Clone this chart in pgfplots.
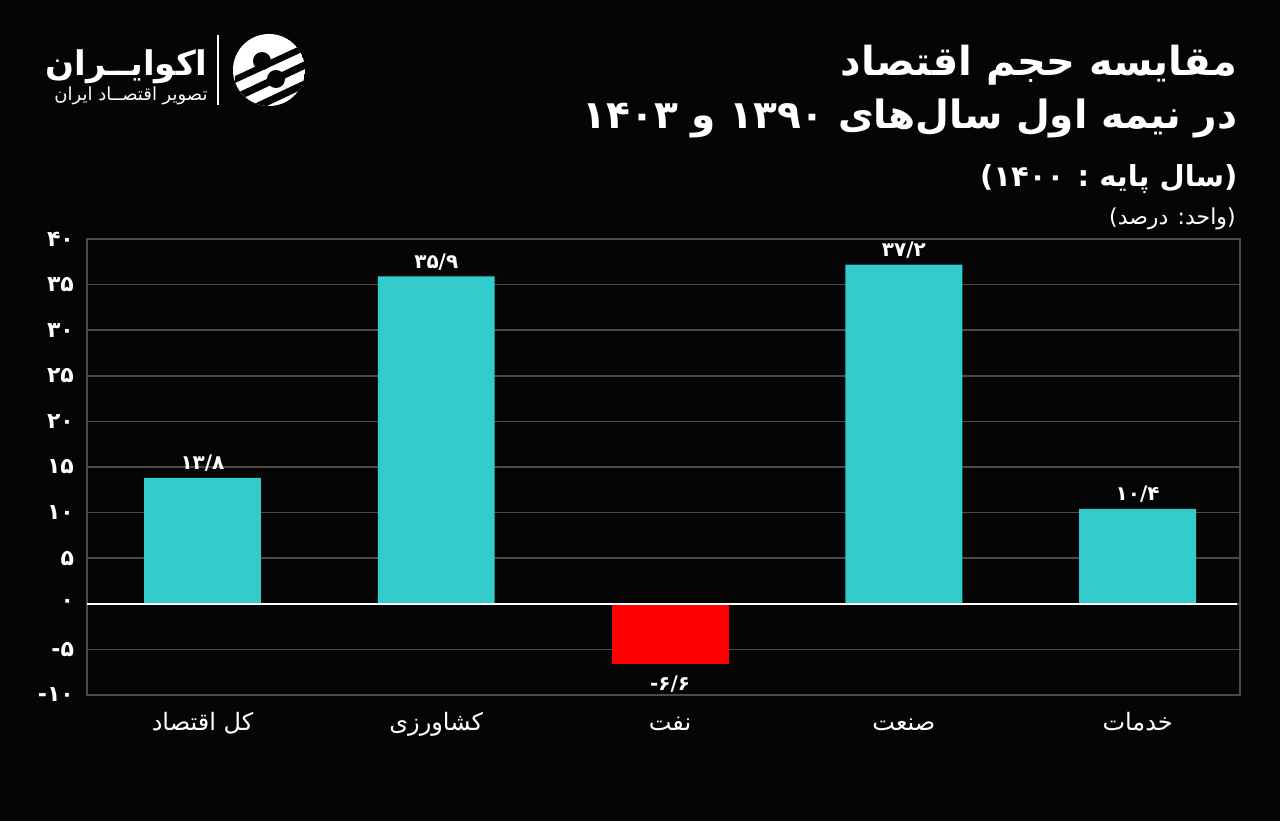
\documentclass[border=0pt]{standalone}
\usepackage{pgfplots}
\pgfplotsset{compat=1.18}
\usepackage{fontspec}
\setmainfont{DejaVu Sans}
\newfontfamily\fa[Script=Arabic]{DejaVu Sans}
\TeXXeTstate=1
\definecolor{bg}{HTML}{050505}
\definecolor{barc}{HTML}{33CCCC}
\definecolor{gridc}{HTML}{4A4A4A}
\begin{document}
\begin{tikzpicture}[x=0.5pt,y=0.5pt]
\begin{scope}[shift={(-87,-126)}]
\fill[bg] (0,0) rectangle (1280,821);
\useasboundingbox (0,0) rectangle (1280,821);
% logo
\node[anchor=base east, white, font=\fa\bfseries\fontsize{17}{20}\selectfont, inner sep=0] at (208,746) {\beginR اکوایــران\endR};
\node[anchor=base east, white, font=\fa\fontsize{9}{11}\selectfont, inner sep=0] at (208,721) {\beginR تصویر اقتصــاد ایران\endR};
\draw[white, line width=0.6pt] (218,786) -- (218,716);
\begin{scope}
  \clip (269,751) circle[radius=36];
  \fill[white] (269,751) circle[radius=36];
  \fill[bg] (235,745) -- (300,775) -- (300,768) -- (235,738) -- cycle;
  \fill[bg] (235,727) -- (305,760) -- (305,752) -- (235,719) -- cycle;
  \fill[bg] (235,708) -- (305,741) -- (305,733) -- (235,700) -- cycle;
  \fill[bg] (262,760) circle[radius=9];
  \fill[bg] (276,742) circle[radius=9];
\end{scope}
% titles
\node[anchor=base east, white, font=\fa\bfseries\fontsize{20}{24}\selectfont, inner sep=0] at (1238,746) {\beginR مقایسه حجم اقتصاد\endR};
\node[anchor=base east, white, font=\fa\bfseries\fontsize{19.5}{24}\selectfont, inner sep=0] at (1238,693) {\beginR در نیمه اول سال‌های ۱۳۹۰ و ۱۴۰۳\endR};
\node[anchor=base east, white, font=\fa\bfseries\fontsize{14.5}{18}\selectfont, inner sep=0] at (1238,635) {)\beginR سال پایه : ۱۴۰۰\endR(};
\node[anchor=base east, white, font=\fa\fontsize{11}{13}\selectfont, inner sep=0] at (1236,597) {)\beginR واحد\kern0pt: درصد\endR(};
\end{scope}
\begin{axis}[
  scale only axis,
  width=576.5pt, height=228pt,
  xmin=-0.494, xmax=4.438, ymin=-10, ymax=40,
  axis line style={draw=gridc, line width=0.8pt},
  ytick={-10,-5,...,40},
  yticklabels={-\kern0pt۱۰,-\kern0pt۵,۰,۵,۱۰,۱۵,۲۰,۲۵,۳۰,۳۵,۴۰},
  xtick={0,1,2,3,4},
  xticklabels={\beginR کل اقتصاد\endR,\beginR کشاورزی\endR,\beginR نفت\endR,\beginR صنعت\endR,\beginR خدمات\endR},
  major tick length=0pt,
  ymajorgrids, grid style={gridc, line width=0.8pt},
  tick label style={white},
  yticklabel style={font=\fa\bfseries\fontsize{11}{13}\selectfont, xshift=-3pt},
  xticklabel style={font=\fa\fontsize{12}{14}\selectfont, yshift=-1pt, text height=13pt, text depth=4pt},
  clip=false,
  point meta=explicit symbolic,
]
\addplot[ybar, bar width=0.5, bar shift=0pt, fill=barc, draw=none,
  nodes near coords, every node near coord/.append style={white, anchor=south, font=\fa\bfseries\fontsize{10}{12}\selectfont, inner sep=3pt}]
  coordinates {(0,13.8) [۱۳/۸] (1,35.9) [۳۵/۹] (3,37.2) [۳۷/۲] (4,10.4) [۱۰/۴]};
\addplot[ybar, bar width=0.5, bar shift=0pt, fill=red, draw=none,
  nodes near coords, every node near coord/.append style={white, anchor=north, font=\fa\bfseries\fontsize{10}{12}\selectfont, inner sep=6pt}]
  coordinates {(2,-6.6) [-\kern0pt۶/۶]};
\addplot[white, line width=1.3pt] coordinates {(-0.494,0) (4.425,0)};
\end{axis}
\end{tikzpicture}
\end{document}
